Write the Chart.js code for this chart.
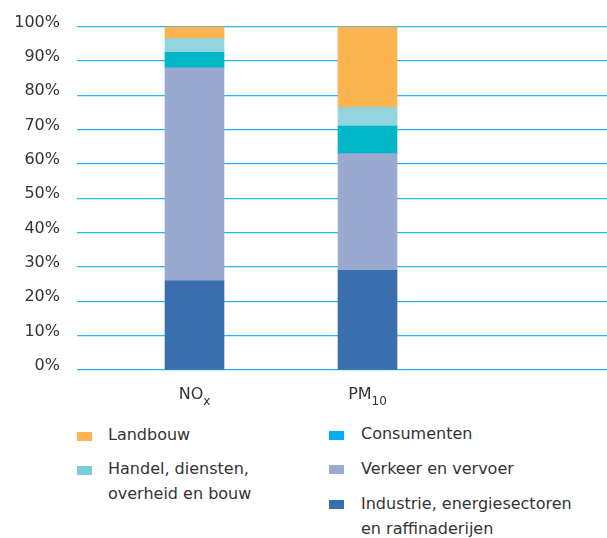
<!DOCTYPE html>
<html>
<head>
<meta charset="utf-8">
<script src="https://cdn.jsdelivr.net/npm/chart.js@4/dist/chart.umd.min.js"></script>
<style>
  body { margin: 0; background: #fff; }
  #wrap { position: relative; width: 607px; height: 538px; font-family: "DejaVu Sans", sans-serif; color: #333; }
  #chart { position: absolute; left: 0; top: 0; }
  .sw { position: absolute; width: 15px; height: 9px; }
  .lt { position: absolute; font-size: 16px; line-height: 25px; white-space: pre-line; }
</style>
</head>
<body>
<div id="wrap">
  <canvas id="chart" width="607" height="420"></canvas>
</div>
<script>
// categories: main text + subscript
const categories = ["NO", "PM"];
const categorySubs = ["x", "10"];

// series, bottom to top of the stack
const seriesNames = [
  "Industrie, energiesectoren\nen raffinaderijen",
  "Verkeer en vervoer",
  "Consumenten",
  "Handel, diensten,\noverheid en bouw",
  "Landbouw"
];
const industrie   = [26, 29];
const verkeer     = [62, 34];
const consumenten = [4.5, 8];
const handel      = [4, 5.5];
const landbouw    = [3.5, 23.5];
const seriesValues = [industrie, verkeer, consumenten, handel, landbouw];

const yTicks = [0, 10, 20, 30, 40, 50, 60, 70, 80, 90, 100];

const barColors    = ["#3a6faf", "#99a9d0", "#00b7c9", "#92d5df", "#fbb450"];
const legendColors = ["#3a6faf", "#99a9d0", "#00aeef", "#79cdd8", "#fbb450"];

const datasets = seriesNames.map((name, i) => ({
  label: name,
  data: seriesValues[i].map((v, j) => ({x: j, y: v})),
  backgroundColor: barColors[i],
  borderWidth: 0,
  barThickness: 59,
  stack: "all"
}));

const catLabels = {
  id: "catLabels",
  afterDraw(chart) {
    const ctx = chart.ctx;
    const xs = chart.scales.x;
    ctx.save();
    ctx.fillStyle = "#333";
    ctx.textBaseline = "alphabetic";
    categories.forEach((c, i) => {
      ctx.font = "16px 'DejaVu Sans'";
      const w1 = ctx.measureText(c).width;
      ctx.font = "12px 'DejaVu Sans'";
      const w2 = ctx.measureText(categorySubs[i]).width;
      const x0 = xs.getPixelForValue(i) - (w1 + w2) / 2;
      ctx.font = "16px 'DejaVu Sans'";
      ctx.textAlign = "left";
      ctx.fillText(c, x0, 399);
      ctx.font = "12px 'DejaVu Sans'";
      ctx.fillText(categorySubs[i], x0 + w1, 405);
    });
    ctx.restore();
  }
};

new Chart(document.getElementById("chart"), {
  type: "bar",
  data: {datasets: datasets},
  options: {
    responsive: false,
    animation: false,
    devicePixelRatio: 1,
    layout: {padding: {top: 23, bottom: 50, left: 0, right: 0}},
    plugins: {legend: {display: false}, tooltip: {enabled: false}},
    scales: {
      x: {
        type: "linear",
        display: false,
        offset: false,
        min: -0.6792,
        max: 2.3844
      },
      y: {
        stacked: true,
        min: 0,
        max: 100,
        afterFit: s => { s.width = 77; },
        afterBuildTicks: s => { s.ticks = yTicks.map(v => ({value: v})); },
        border: {display: false},
        grid: {color: "#29b5ec", lineWidth: 1.2, drawTicks: false},
        ticks: {
          padding: 17,
          labelOffset: -4,
          color: "#333",
          font: {family: "DejaVu Sans", size: 16},
          callback: v => v + "%"
        }
      }
    }
  },
  plugins: [catLabels]
});

// legend in two columns, as in the reference
const wrap = document.getElementById("wrap");
const legendPos = [
  {sx: 329, sy: 500, tx: 361, ty: 490.5},
  {sx: 329, sy: 465, tx: 361, ty: 456},
  {sx: 329, sy: 431, tx: 361, ty: 421},
  {sx: 77, sy: 466, tx: 108, ty: 455.5},
  {sx: 77, sy: 432, tx: 108, ty: 421.5}
];
seriesNames.forEach((name, i) => {
  const p = legendPos[i];
  const sw = document.createElement("div");
  sw.className = "sw";
  sw.style.left = p.sx + "px";
  sw.style.top = p.sy + "px";
  sw.style.background = legendColors[i];
  wrap.appendChild(sw);
  const t = document.createElement("div");
  t.className = "lt";
  t.style.left = p.tx + "px";
  t.style.top = p.ty + "px";
  t.textContent = name;
  wrap.appendChild(t);
});
</script>
</body>
</html>
